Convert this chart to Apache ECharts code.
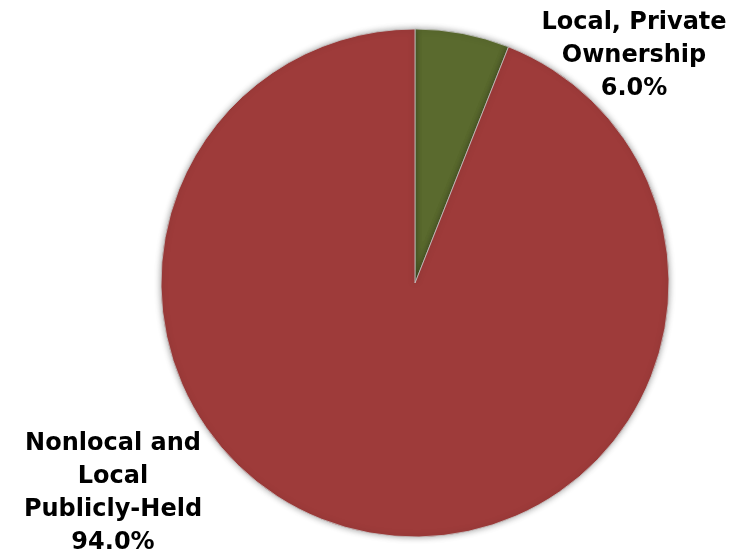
<!DOCTYPE html>
<html>
<head>
<meta charset="utf-8">
<script src="https://cdn.jsdelivr.net/npm/echarts@6/dist/echarts.min.js"></script>
<style>html,body{margin:0;padding:0;background:#fff}#c{width:734px;height:556px}</style>
</head>
<body>
<div id="c"></div>
<script>
var categories = ["Local, Private\nOwnership", "Nonlocal and\nLocal\nPublicly-Held"];
var values = [6.0, 94.0];
var colors = ["#5A6A2E", "#9E3B3A"];
var labelSpots = [[634, 56], [113, 493]];

var chart = echarts.init(document.getElementById('c'), null, {renderer: 'canvas'});
chart.setOption({
  animation: false,
  backgroundColor: '#ffffff',
  series: [{
    type: 'pie',
    center: [415, 283],
    radius: 254,
    startAngle: 90,
    clockwise: true,
    data: categories.map(function (c, i) {
      return { name: c, value: values[i], itemStyle: { color: colors[i] } };
    }),
    itemStyle: {
      borderColor: 'rgba(200,200,200,0.8)',
      borderWidth: 1,
      shadowBlur: 6,
      shadowColor: 'rgba(0,0,0,0.35)'
    },
    label: {
      show: true,
      position: 'outside',
      formatter: function (p) { return p.name + '\n' + p.value.toFixed(1) + '%'; },
      fontFamily: 'DejaVu Sans, sans-serif',
      fontWeight: 'bold',
      fontSize: 24,
      lineHeight: 33,
      color: '#000',
      align: 'center'
    },
    labelLine: { show: false },
    labelLayout: function (params) {
      var s = labelSpots[params.dataIndex];
      return { x: s[0], y: s[1], align: 'center', verticalAlign: 'middle' };
    }
  }]
});
</script>
</body>
</html>
